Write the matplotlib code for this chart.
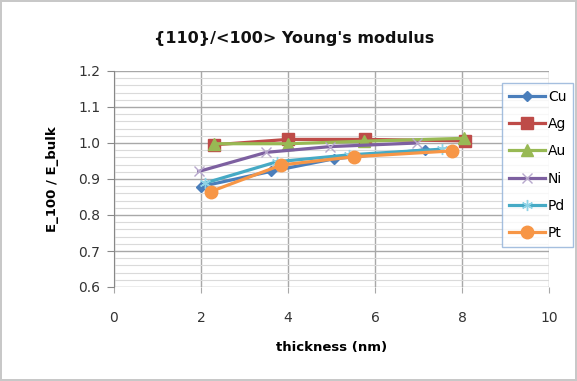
import matplotlib
matplotlib.use("Agg")
import matplotlib.pyplot as plt
from matplotlib.ticker import MultipleLocator

plt.rcParams['font.family'] = ['DejaVu Sans']

# Data
cu_x = [2.0, 3.6, 5.05, 7.15]
cu_y = [0.879, 0.921, 0.956, 0.981]
ag_x = [2.3, 4.0, 5.77, 8.08]
ag_y = [0.995, 1.010, 1.010, 1.006]
au_x = [2.3, 4.0, 5.75, 8.05]
au_y = [0.998, 0.998, 1.005, 1.013]
ni_x = [1.95, 3.5, 4.97, 6.96]
ni_y = [0.921, 0.974, 0.990, 1.000]
pd_x = [2.1, 3.75, 5.4, 7.55]
pd_y = [0.889, 0.948, 0.967, 0.983]
pt_x = [2.22, 3.85, 5.52, 7.76]
pt_y = [0.865, 0.939, 0.962, 0.978]

x_ticks = [0, 2, 4, 6, 8, 10]
y_ticks = [0.6, 0.7, 0.8, 0.9, 1.0, 1.1, 1.2]

fig = plt.figure(figsize=(5.77, 3.81), dpi=100)
fig.patch.set_edgecolor('#c8c8c8')
fig.patch.set_linewidth(1.5)
ax = fig.add_axes([114/577, 1-287/381, (549-114)/577, (287-71)/381])

series = [
    ('Cu', cu_x, cu_y, '#4A7EBB', 'D', 5, None),
    ('Ag', ag_x, ag_y, '#BE4B48', 's', 8, None),
    ('Au', au_x, au_y, '#98B954', '^', 8, None),
    ('Ni', ni_x, ni_y, '#7D60A0', 'x', 7, '#b7a8cc'),
    ('Pd', pd_x, pd_y, '#46AAC5', (6, 2, 0), 8, '#8fd3e6'),
    ('Pt', pt_x, pt_y, '#F79646', 'o', 9, None),
]
for name, xs, ys, col, mk, ms, mcol in series:
    kw = {}
    if mcol is not None:
        kw = dict(markeredgecolor=mcol, markerfacecolor=mcol, markeredgewidth=1.0)
    ax.plot(xs, ys, color=col, lw=2.3, marker=mk, markersize=ms, label=name,
            zorder=3, **kw)

ax.set_xlim(0, 10)
ax.set_ylim(0.6, 1.2)
ax.set_xticks(x_ticks)
ax.set_yticks(y_ticks)
ax.set_yticklabels([f"{v:.1f}" for v in y_ticks])
ax.yaxis.set_minor_locator(MultipleLocator(0.02))
ax.grid(True, which='major', axis='both', color='#a8a8a8', lw=1.0, zorder=0)
ax.grid(True, which='minor', axis='y', color='#dadada', lw=0.8, zorder=0)
ax.tick_params(axis='y', which='major', length=5, color='#888888', labelsize=10,
               labelcolor='#333333', pad=5)
ax.tick_params(axis='y', which='minor', length=0)
ax.tick_params(axis='x', length=4, color='#a8a8a8', labelsize=10,
               labelcolor='#333333', pad=13, direction='out')
for s in ['top', 'right', 'bottom']:
    ax.spines[s].set_visible(False)
ax.spines['left'].set_color('#888888')

ax.set_xlabel('thickness (nm)', fontsize=9.5, fontweight='bold', labelpad=12)
ax.set_ylabel('E_100 / E_bulk', fontsize=9.5, fontweight='bold', labelpad=14)
fig.text(294/577, 1-38/381, "{110}/<100> Young's modulus", fontsize=11.5,
         fontweight='bold', ha='center', va='center', color='#111111')

leg = fig.legend(loc='upper left', bbox_to_anchor=(502/577, 1-83/381),
                 frameon=True, fancybox=False, borderaxespad=0, fontsize=10,
                 handlelength=2.6, labelspacing=0.95, borderpad=0.5,
                 handletextpad=0.2)
leg.get_frame().set_edgecolor('#8fb0d8')
leg.get_frame().set_linewidth(1.0)

fig.savefig('out.png', dpi=100)
